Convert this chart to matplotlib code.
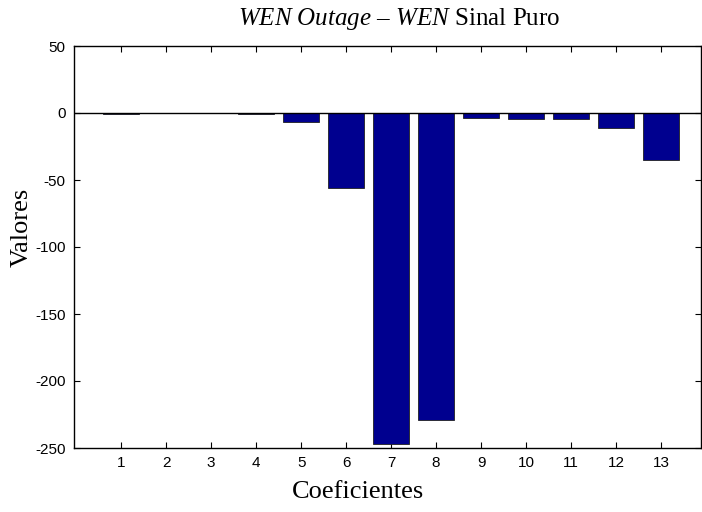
import matplotlib
matplotlib.use("Agg")
import matplotlib.pyplot as plt

coefs = list(range(1, 14))
values = [-0.8, -0.3, -0.3, -0.8, -7.0, -56.0, -247.0, -229.0, -3.5, -4.5, -4.5, -11.0, -35.0]
yticks = [50, 0, -50, -100, -150, -200, -250]

plt.rcParams['mathtext.fontset'] = 'custom'
plt.rcParams['mathtext.rm'] = 'Liberation Serif'
plt.rcParams['mathtext.it'] = 'Liberation Serif:italic'

fig = plt.figure(figsize=(7.02, 5.12), dpi=100)
ax = fig.add_axes([74/702, 1-448/512, (701-74)/702, (448-46)/512])

ax.bar(coefs, values, width=0.8, color='#00008F', edgecolor='#202020', linewidth=0.6, zorder=2)
ax.axhline(0, color='black', linewidth=1.0, zorder=3)

ax.set_xlim(-0.05, 13.89)
ax.set_ylim(-250, 50)
ax.set_xticks(coefs)
ax.set_yticks(yticks)
ax.set_xticklabels([str(c) for c in coefs], fontfamily='Liberation Sans', fontsize=11)
ax.set_yticklabels([str(v) for v in yticks], fontfamily='Liberation Sans', fontsize=11)
ax.tick_params(direction='in', length=4, width=0.8, top=True, right=True, pad=6)
for s in ax.spines.values():
    s.set_linewidth(1.0)

fig.text(399/702, 1-25/512, r'$\it{WEN\ Outage}$ – $\it{WEN}$ Sinal Puro',
         ha='center', va='baseline', fontfamily='Liberation Serif', fontsize=18)
fig.text(358/702, 1-498/512, 'Coeficientes', ha='center', va='baseline',
         fontfamily='Liberation Serif', fontsize=19)
fig.text(22/702, 1-227/512, 'Valores', ha='center', va='center', rotation=90,
         fontfamily='Liberation Serif', fontsize=19)

fig.savefig('out.png', dpi=100)
